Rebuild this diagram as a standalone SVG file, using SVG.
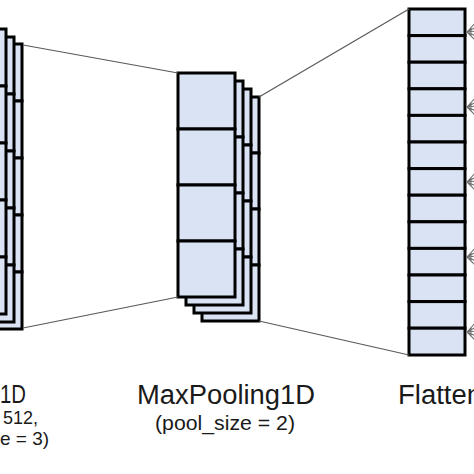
<svg xmlns="http://www.w3.org/2000/svg" width="474" height="474" viewBox="0 0 474 474">
<style>
.c{fill:#dae3f3;stroke:#000;stroke-width:3}
.ln{stroke:#595959;stroke-width:1.2;fill:none}
.fan{stroke:#6f6f6f;stroke-width:1.1;fill:none}
.t{font-family:"Liberation Sans",Arial,sans-serif;fill:#1a1a1a}
</style>
<rect width="474" height="474" fill="#fff"/>
<g id="conv1d">
  <g id="conv-l3">
    <rect class="c" x="-34" y="44" width="56" height="57"/>
    <rect class="c" x="-34" y="101" width="56" height="57"/>
    <rect class="c" x="-34" y="158" width="56" height="57"/>
    <rect class="c" x="-34" y="215" width="56" height="57"/>
    <rect class="c" x="-34" y="272" width="56" height="57"/>
  </g>
  <g id="conv-l2">
    <rect class="c" x="-42" y="37" width="56" height="57"/>
    <rect class="c" x="-42" y="94" width="56" height="57"/>
    <rect class="c" x="-42" y="151" width="56" height="57"/>
    <rect class="c" x="-42" y="208" width="56" height="57"/>
    <rect class="c" x="-42" y="265" width="56" height="57"/>
  </g>
  <g id="conv-l1">
    <rect class="c" x="-50" y="29" width="56" height="57"/>
    <rect class="c" x="-50" y="86" width="56" height="57"/>
    <rect class="c" x="-50" y="143" width="56" height="57"/>
    <rect class="c" x="-50" y="200" width="56" height="57"/>
    <rect class="c" x="-50" y="257" width="56" height="57"/>
  </g>
</g>
<g id="maxpool">
  <g id="mp-l4">
    <rect class="c" x="202" y="97" width="57" height="56"/>
    <rect class="c" x="202" y="153" width="57" height="56"/>
    <rect class="c" x="202" y="209" width="57" height="56"/>
    <rect class="c" x="202" y="265" width="57" height="56"/>
  </g>
  <g id="mp-l3">
    <rect class="c" x="194" y="89" width="57" height="56"/>
    <rect class="c" x="194" y="145" width="57" height="56"/>
    <rect class="c" x="194" y="201" width="57" height="56"/>
    <rect class="c" x="194" y="257" width="57" height="56"/>
  </g>
  <g id="mp-l2">
    <rect class="c" x="186" y="81" width="57" height="56"/>
    <rect class="c" x="186" y="137" width="57" height="56"/>
    <rect class="c" x="186" y="193" width="57" height="56"/>
    <rect class="c" x="186" y="249" width="57" height="56"/>
  </g>
  <g id="mp-l1">
    <rect class="c" x="178" y="73" width="57" height="56"/>
    <rect class="c" x="178" y="129" width="57" height="56"/>
    <rect class="c" x="178" y="185" width="57" height="56"/>
    <rect class="c" x="178" y="241" width="57" height="56"/>
  </g>
</g>
<g id="flatten">
  <rect class="c" x="409" y="9" width="56" height="26.6"/>
  <rect class="c" x="409" y="35.6" width="56" height="26.6"/>
  <rect class="c" x="409" y="62.2" width="56" height="26.6"/>
  <rect class="c" x="409" y="88.8" width="56" height="26.6"/>
  <rect class="c" x="409" y="115.4" width="56" height="26.6"/>
  <rect class="c" x="409" y="142" width="56" height="26.6"/>
  <rect class="c" x="409" y="168.6" width="56" height="26.6"/>
  <rect class="c" x="409" y="195.2" width="56" height="26.6"/>
  <rect class="c" x="409" y="221.8" width="56" height="26.6"/>
  <rect class="c" x="409" y="248.4" width="56" height="26.6"/>
  <rect class="c" x="409" y="275" width="56" height="26.6"/>
  <rect class="c" x="409" y="301.6" width="56" height="26.6"/>
  <rect class="c" x="409" y="328.2" width="56" height="26.8"/>
</g>
<g id="connectors">
  <line class="ln" x1="23" y1="45" x2="178" y2="73"/>
  <line class="ln" x1="23" y1="328" x2="178" y2="297"/>
  <line class="ln" x1="259" y1="97" x2="409" y2="9"/>
  <line class="ln" x1="259" y1="321" x2="409" y2="355"/>
  <path class="fan" d="M467,32 L476,22 M467,32 L476,27 M467,32 L476,31 M467,32 L476,36 M467,32 L476,41 M467,32 L471,28 L471,36 Z"/>
  <path class="fan" d="M467,107 L476,97 M467,107 L476,102 M467,107 L476,106 M467,107 L476,111 M467,107 L476,116 M467,107 L471,103 L471,111 Z"/>
  <path class="fan" d="M467,182 L476,172 M467,182 L476,177 M467,182 L476,181 M467,182 L476,186 M467,182 L476,191 M467,182 L471,178 L471,186 Z"/>
  <path class="fan" d="M467,257 L476,247 M467,257 L476,252 M467,257 L476,256 M467,257 L476,261 M467,257 L476,266 M467,257 L471,253 L471,261 Z"/>
  <path class="fan" d="M467,332 L476,322 M467,332 L476,327 M467,332 L476,331 M467,332 L476,336 M467,332 L476,341 M467,332 L471,328 L471,336 Z"/>
</g>
<g id="labels">
  <text class="t" x="0" y="403" font-size="26" textLength="26" lengthAdjust="spacingAndGlyphs">1D</text>
  <text class="t" x="3" y="424" font-size="18">512,</text>
  <text class="t" x="0" y="445" font-size="19">e = 3)</text>
  <text class="t" x="226" y="404" font-size="27" text-anchor="middle" textLength="178" lengthAdjust="spacingAndGlyphs">MaxPooling1D</text>
  <text class="t" x="225" y="430" font-size="20" text-anchor="middle" textLength="140" lengthAdjust="spacingAndGlyphs">(pool_size = 2)</text>
  <text class="t" x="398" y="404" font-size="27" textLength="84" lengthAdjust="spacingAndGlyphs">Flatten</text>
</g>
</svg>
